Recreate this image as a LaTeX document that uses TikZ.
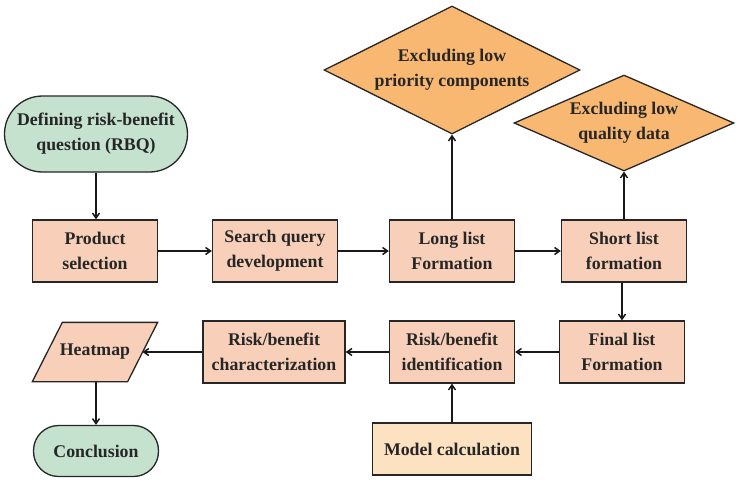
\documentclass[tikz,border=0pt]{standalone}
\usepackage{fontspec}
\setmainfont{Liberation Serif}
\usetikzlibrary{shapes.geometric,arrows.meta,backgrounds}
\definecolor{boxfill}{HTML}{F8D0BA}
\definecolor{dia}{HTML}{F9B872}
\definecolor{term}{HTML}{C5E2CF}
\definecolor{modfill}{HTML}{FDE2C2}
\definecolor{txt}{HTML}{262626}
\tikzset{
  base/.style={draw=black!85, line width=1.3pt, align=center, inner sep=0pt, text=txt,
    font=\fontsize{17.8}{25}\selectfont\bfseries},
  procbox/.style={base, rectangle, fill=boxfill, minimum width=125pt, minimum height=62pt},
  termbox/.style={base, rectangle, fill=term},
  dbox/.style={base, diamond, fill=dia},
  conn/.style={line width=1.5pt, draw=black!90, -{Straight Barb[length=5pt,width=7pt]}},
}
\begin{document}
\begin{tikzpicture}[x=1pt,y=-1pt]
\useasboundingbox (0,0) rectangle (742,482);
\node[termbox, minimum width=183pt, minimum height=76pt, rounded corners=38pt] (rbq) at (96,134) {Defining risk-benefit\\question (RBQ)};
\node[procbox] (prod) at (95,251) {Product\\selection};
\node[procbox] (search) at (275,251) {Search query\\development};
\node[procbox] (long) at (452,251) {Long list\\Formation};
\node[procbox] (short) at (624,251) {Short list\\formation};
\node[procbox] (final) at (622,352) {Final list\\Formation};
\node[procbox] (ident) at (452,352) {Risk/benefit\\identification};
\node[procbox, minimum width=142pt] (char) at (274,352) {Risk/benefit\\characterization};
\node[procbox, fill=modfill, minimum width=159pt, minimum height=52pt] (model) at (452,449) {Model calculation};
\node[base, draw=none, minimum width=124pt, minimum height=58pt] (heat) at (95,352) {Heatmap};
\begin{scope}[on background layer]
\draw[line width=1.3pt, draw=black!85, fill=boxfill] ([xshift=30pt]heat.north west) -- (heat.north east) -- ([xshift=-30pt]heat.south east) -- (heat.south west) -- cycle;
\end{scope}
\coordinate (heatR) at (142.5,352);
\node[termbox, minimum width=125pt, minimum height=51pt, rounded corners=25pt] (concl) at (96,451) {Conclusion};
\node[dbox, minimum width=256pt, minimum height=128pt, aspect=2] (ex1) at (452,70) {Excluding low\\priority components};
\node[dbox, minimum width=220pt, minimum height=96pt, aspect=2.3] (ex2) at (624,123) {Excluding low\\quality data};

\draw[conn] (rbq.south) -- (prod.north -| rbq.south);
\draw[conn] (prod) -- (search);
\draw[conn] (search) -- (long);
\draw[conn] (long) -- (short);
\draw[conn] (long.north) -- (ex1.south);
\draw[conn] (short.north) -- (ex2.south);
\draw[conn] (short.south -| final.north) -- (final.north);
\draw[conn] (final) -- (ident);
\draw[conn] (ident) -- (char);
\draw[conn] (char.west) -- (heatR);
\draw[conn] (heat.south -| concl.north) -- (concl.north);
\draw[conn] (model.north) -- (ident.south);
\end{tikzpicture}
\end{document}
